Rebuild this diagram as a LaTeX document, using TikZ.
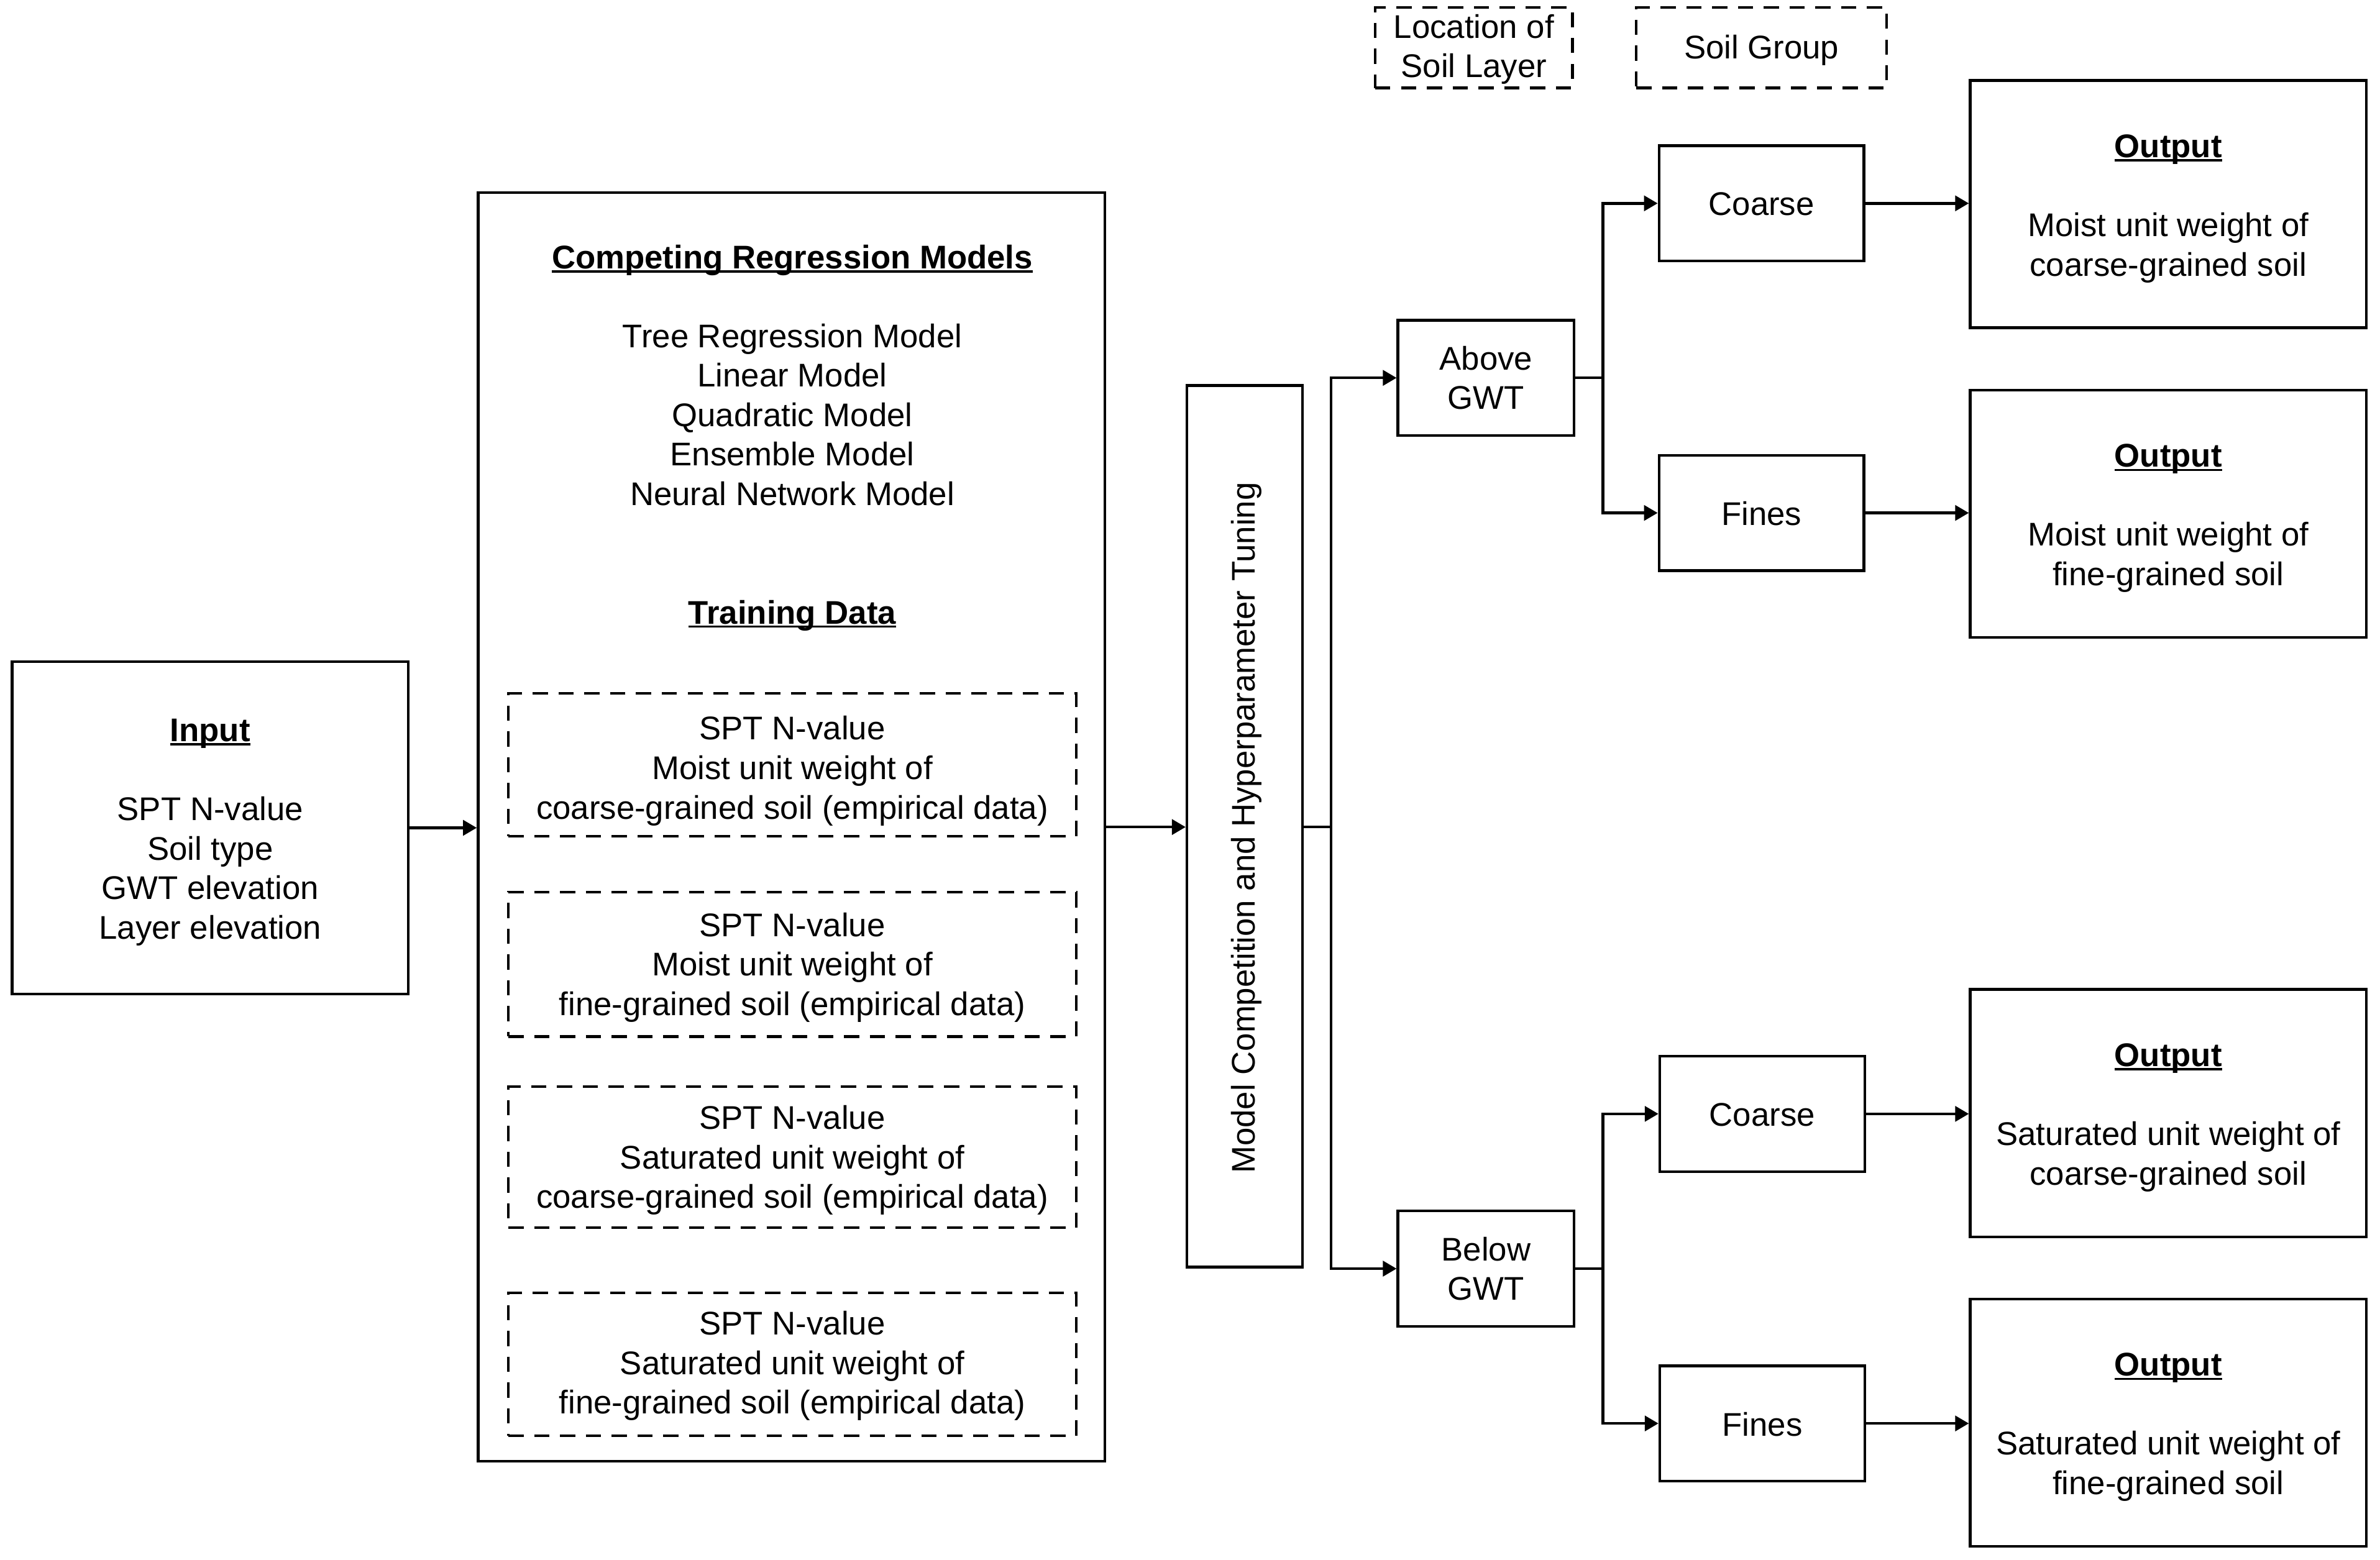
\documentclass[tikz,border=0pt]{standalone}
\usepackage{fontspec}
\setmainfont{Liberation Sans}
\usetikzlibrary{arrows.meta}
\newcommand{\ulx}[1]{\setbox0\hbox{#1}\rlap{\rule[-2.6pt]{\wd0}{1.5pt}}\box0}
\begin{document}
\begin{tikzpicture}[x=1pt,y=-1pt,
  every node/.style={font=\fontsize{21.6}{26}\selectfont, align=center, inner sep=0pt},
  solidbox/.style={draw, line width=1.8pt},
  dashbox/.style={draw, line width=1.8pt, dash pattern=on 10pt off 7pt},
  txt/.style={yshift=-3pt},
  conn/.style={line width=1.8pt},
  arr/.style={line width=1.8pt, -{Triangle[length=9pt,width=10pt]}}]
\useasboundingbox (0,0) rectangle (1568,1027.6);
% input
\node[solidbox, minimum width=261pt, minimum height=219pt] (input) at (138.5,545.5) {};
\node[txt] (inputtxt) at (input.center) {\ulx{\bfseries Input}\\[26pt] SPT N-value\\ Soil type\\ GWT elevation\\ Layer elevation};
% big box
\node[solidbox, minimum width=413pt, minimum height=836pt] (big) at (521.5,545) {};
\node[txt] (bigtxt) at (522,285.5) {\ulx{\bfseries Competing Regression Models}\\[26pt] Tree Regression Model\\ Linear Model\\ Quadratic Model\\ Ensemble Model\\ Neural Network Model\\[52pt] \ulx{\bfseries Training Data}};
\node[dashbox, minimum width=374pt, minimum height=94pt] (d1) at (522,504) {};
\node[dashbox, minimum width=374pt, minimum height=95pt] (d2) at (522,635.5) {};
\node[dashbox, minimum width=374pt, minimum height=93pt] (d3) at (522,762.5) {};
\node[dashbox, minimum width=374pt, minimum height=94pt] (d4) at (522,899) {};
\node[yshift=-4pt] (d1t) at (d1.center) {SPT N-value\\ Moist unit weight of\\ coarse-grained soil (empirical data)};
\node[yshift=-2pt] (d2t) at (d2.center) {SPT N-value\\ Moist unit weight of\\ fine-grained soil (empirical data)};
\node[yshift=-2pt] (d3t) at (d3.center) {SPT N-value\\ Saturated unit weight of\\ coarse-grained soil (empirical data)};
\node[yshift=-1pt] (d4t) at (d4.center) {SPT N-value\\ Saturated unit weight of\\ fine-grained soil (empirical data)};
% model competition
\node[solidbox, minimum width=76pt, minimum height=581pt] (model) at (820,544.5) {};
\node[rotate=90] (modeltxt) at (821,545.5) {Model Competition and Hyperparameter Tuning};
% location
\node[solidbox, minimum width=116pt, minimum height=76pt] (above) at (979,249) {};
\node[solidbox, minimum width=116pt, minimum height=76pt] (below) at (979,836) {};
\node (abovet) at (above.center) {Above\\ GWT};
\node (belowt) at (below.center) {Below\\ GWT};
% soil group
\node[solidbox, minimum width=135pt, minimum height=76pt] (c1) at (1160.5,134) {};
\node[solidbox, minimum width=135pt, minimum height=76pt] (f1) at (1160.5,338) {};
\node[solidbox, minimum width=135pt, minimum height=76pt] (c2) at (1161,734) {};
\node[solidbox, minimum width=135pt, minimum height=76pt] (f2) at (1161,938) {};
\node[yshift=-0.5pt] (c1t) at (c1.center) {Coarse};
\node[yshift=-0.5pt] (f1t) at (f1.center) {Fines};
\node[yshift=-0.5pt] (c2t) at (c2.center) {Coarse};
\node[yshift=-0.5pt] (f2t) at (f2.center) {Fines};
% outputs
\node[solidbox, minimum width=261pt, minimum height=163pt] (o1) at (1428.5,134.5) {};
\node[solidbox, minimum width=261pt, minimum height=163pt] (o2) at (1428.5,338.5) {};
\node[solidbox, minimum width=261pt, minimum height=163pt] (o3) at (1428.5,733.5) {};
\node[solidbox, minimum width=261pt, minimum height=163pt] (o4) at (1428.5,937.5) {};
\node[txt] (o1t) at (o1.center) {\ulx{\bfseries Output}\\[26pt] Moist unit weight of\\ coarse-grained soil};
\node[txt] (o2t) at (o2.center) {\ulx{\bfseries Output}\\[26pt] Moist unit weight of\\ fine-grained soil};
\node[txt] (o3t) at (o3.center) {\ulx{\bfseries Output}\\[26pt] Saturated unit weight of\\ coarse-grained soil};
\node[txt] (o4t) at (o4.center) {\ulx{\bfseries Output}\\[26pt] Saturated unit weight of\\ fine-grained soil};
% header labels
\node[dashbox, minimum width=130pt, minimum height=53pt] (lab1) at (971,31.5) {};
\node[dashbox, minimum width=165pt, minimum height=53pt] (lab2) at (1160.5,31.5) {};
\node[yshift=-1pt] (lab1t) at (lab1.center) {Location of\\ Soil Layer};
\node[yshift=-1.5pt] (lab2t) at (lab2.center) {Soil Group};
% connectors
\draw[arr] (input.east) -- (input.east -| big.west);
\draw[arr] (big.east) -- (big.east -| model.west);
\coordinate (s1) at (877,545);
\draw[conn] (model.east |- s1) -- (s1);
\draw[arr] (s1) |- (above.west);
\draw[arr] (s1) |- (below.west);
\coordinate (s2) at (1056,249);
\draw[conn] (above.east) -- (s2);
\draw[arr] (s2) |- (c1.west);
\draw[arr] (s2) |- (f1.west);
\coordinate (s3) at (1056,836);
\draw[conn] (below.east) -- (s3);
\draw[arr] (s3) |- (c2.west);
\draw[arr] (s3) |- (f2.west);
\draw[arr] (c1.east) -- (c1.east -| o1.west);
\draw[arr] (f1.east) -- (f1.east -| o2.west);
\draw[arr] (c2.east) -- (c2.east -| o3.west);
\draw[arr] (f2.east) -- (f2.east -| o4.west);
\end{tikzpicture}
\end{document}
